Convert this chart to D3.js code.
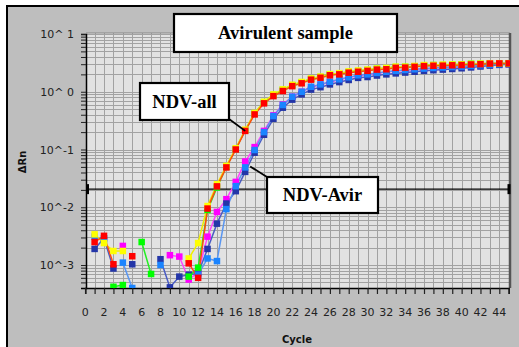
<!DOCTYPE html>
<html><head><meta charset="utf-8">
<script src="https://cdn.jsdelivr.net/npm/d3@7"></script>
<style>html,body{margin:0;padding:0;background:#fff;}svg{display:block;}</style>
</head><body>
<svg id="c" width="519" height="347"></svg>
<script>
// ---- data ----
const cycles = d3.range(1, 46);
const xTicks = d3.range(0, 45, 2);
const yTickLabels = [[10, "10^ 1"], [1, "10^ 0"], [0.1, "10^-1"], [0.01, "10^-2"], [0.001, "10^-3"]];
const threshold = 0.0206;
const _ = null;
// NDV-all replicates
const red    = [0.0025,0.0032,0.00103,_,0.00142,_,_,_,_,_,0.00107,0.0006,0.0095,0.023,0.049,0.1,0.21,0.405,0.63,0.84,1.03,1.25,1.4,1.62,1.75,1.93,2.0,2.14,2.22,2.3,2.42,2.45,2.6,2.62,2.7,2.78,2.82,2.83,2.87,2.9,2.97,3.0,3.08,3.1,3.1];
const yellow = [0.0034,0.0024,0.00175,0.00175,_,_,_,_,_,_,0.0013,0.0024,0.0105,0.025,0.052,0.105,0.22,0.43,0.67,0.9,1.1,1.32,1.48,1.7,1.83,2.02,2.1,2.25,2.33,2.42,2.52,2.58,2.72,2.72,2.8,2.9,2.9,2.95,2.97,2.98,3.05,3.08,3.12,3.12,3.12];
const green  = [_,_,0.00042,0.00045,_,0.0025,0.0007,_,_,_,0.00063,0.0009,0.009,0.022,0.05,0.102,0.215,0.42,0.66,0.88,1.08,1.3,1.45,1.67,1.8,2.0,2.06,2.2,2.28,2.38,2.5,2.55,2.68,2.7,2.75,2.85,2.9,2.9,2.95,2.98,3.05,3.05,3.1,3.1,3.1];
// NDV-Avir replicates
const magenta   = [_,_,_,0.00214,_,_,_,_,0.00148,0.0014,0.00056,0.00075,0.0031,0.0083,0.0138,0.0275,0.062,0.11,0.21,0.39,0.6,0.82,1.0,1.2,1.32,1.47,1.62,1.76,1.9,1.98,2.1,2.2,2.28,2.36,2.43,2.5,2.56,2.62,2.66,2.7,2.78,2.86,2.93,2.98,3.03];
const navy      = [0.0019,0.0029,0.00087,_,0.00103,_,_,0.00126,0.00041,0.00063,0.00068,0.00072,0.0019,0.0052,0.0116,0.019,0.041,0.088,0.18,0.34,0.53,0.73,0.9,1.09,1.2,1.34,1.47,1.6,1.74,1.8,1.91,2.0,2.08,2.15,2.22,2.3,2.36,2.42,2.48,2.55,2.64,2.74,2.84,2.92,2.98];
const lightBlue = [0.0031,0.0027,_,0.0011,0.0004,_,_,0.001,_,_,_,0.00068,0.0013,0.00117,0.0093,0.0232,0.049,0.098,0.2,0.38,0.59,0.82,1.0,1.22,1.34,1.49,1.64,1.78,1.93,2.0,2.12,2.22,2.3,2.38,2.45,2.52,2.58,2.63,2.68,2.72,2.8,2.88,2.95,3.0,3.05];

const series = [
  {name:"magenta", vals:magenta, fill:"#ff00ff", line:"#ff44ff"},
  {name:"navy", vals:navy, fill:"#2436a8", line:"#4a5cc4"},
  {name:"lightBlue", vals:lightBlue, fill:"#1a84ff", line:"#5a96f0"},
  {name:"green", vals:green, fill:"#00ff00", line:"#22ee22"},
  {name:"yellow", vals:yellow, fill:"#ffff00", line:"#eeee00"},
  {name:"red", vals:red, fill:"#ff0000", line:"#ff4a10"}
];

// ---- layout ----
const svg = d3.select("#c");
const L = 86, R = 510, T = 33, B = 288;
const x = d3.scaleLinear().domain([0, 45]).range([85.2, 508.7]);
const y = d3.scaleLog().domain([0.0004, 10]).range([B, 34]);

// outer frame
svg.append("rect").attr("x",7).attr("y",6).attr("width",530).attr("height",360)
  .attr("fill","#bebebe").attr("stroke","#000").attr("stroke-width",2);

// plot area
svg.append("rect").attr("x",L).attr("y",T).attr("width",R-L).attr("height",B-T).attr("fill","#e2e2e2");

const defs = svg.append("defs");
defs.append("clipPath").attr("id","clip").append("rect").attr("x",L).attr("y",T).attr("width",R-L).attr("height",B-T);

// gridlines
const grid = svg.append("g").attr("shape-rendering","crispEdges");
grid.selectAll("line.v").data(d3.range(1,46)).join("line")
  .attr("x1",d=>Math.round(x(d))+0.5).attr("x2",d=>Math.round(x(d))+0.5).attr("y1",T).attr("y2",B)
  .attr("stroke","#a2a2a2").attr("stroke-width",1.5);
const yMinor = y.ticks().filter(v => v > 0.0004 && v <= 10);
grid.selectAll("line.h").data(yMinor).join("line")
  .attr("x1",L).attr("x2",R).attr("y1",d=>Math.round(y(d))+0.5).attr("y2",d=>Math.round(y(d))+0.5)
  .attr("stroke","#a2a2a2").attr("stroke-width",1.5);

// plot border
svg.append("line").attr("x1",L).attr("x2",R).attr("y1",T).attr("y2",T).attr("stroke","#888").attr("stroke-width",1);
svg.append("line").attr("x1",R).attr("x2",R).attr("y1",T).attr("y2",B).attr("stroke","#555").attr("stroke-width",2.5);

// y axis
const yAxis = d3.axisLeft(y).tickValues(yMinor).tickSize(5).tickFormat("");
const gy = svg.append("g").attr("transform",`translate(${L},0)`).call(yAxis);
gy.select(".domain").attr("stroke","#000").attr("stroke-width",1.5);
gy.selectAll(".tick line").attr("stroke","#222").attr("stroke-width",1);
svg.append("g").selectAll("text").data(yTickLabels).join("text")
  .attr("x",74).attr("y",d=>y(d[0])+4).attr("text-anchor","end")
  .attr("font-family","DejaVu Sans, sans-serif").attr("font-size",11).attr("fill","#222")
  .text(d=>d[1]);

// x axis
const xAxis = d3.axisBottom(x).tickValues(d3.range(0,46)).tickSize(6).tickFormat("");
const gx = svg.append("g").attr("transform",`translate(0,${B})`).call(xAxis);
gx.select(".domain").attr("stroke","#000").attr("stroke-width",1.5);
gx.selectAll(".tick line").attr("stroke","#222").attr("stroke-width",1.2);
svg.append("g").selectAll("text").data(xTicks).join("text")
  .attr("x",d=>x(d)).attr("y",316).attr("text-anchor","middle")
  .attr("font-family","DejaVu Sans, sans-serif").attr("font-size",11).attr("fill","#222")
  .text(d=>d);

// axis titles
svg.append("text").attr("x",297).attr("y",343).attr("text-anchor","middle")
  .attr("font-family","DejaVu Sans, sans-serif").attr("font-weight","bold").attr("font-size",10).attr("fill","#111").text("Cycle");
svg.append("text").attr("transform","translate(26,162) rotate(-90)").attr("text-anchor","middle")
  .attr("font-family","DejaVu Sans, sans-serif").attr("font-weight","bold").attr("font-size",10).attr("fill","#111").text("ΔRn");

// threshold
svg.append("line").attr("x1",L).attr("x2",R).attr("y1",y(threshold)).attr("y2",y(threshold)).attr("stroke","#000").attr("stroke-width",1.3);
[L+1.5, R-1].forEach(px => svg.append("rect").attr("x",px-1.5).attr("y",y(threshold)-5).attr("width",3).attr("height",10).attr("fill","#000"));

// series
const plot = svg.append("g").attr("clip-path","url(#clip)");
const line = d3.line().defined(d=>d.v!=null).x(d=>x(d.c)).y(d=>y(d.v));
series.forEach(s => {
  const pts = cycles.map((c,i)=>({c, v:s.vals[i]}));
  plot.append("path").datum(pts).attr("d",line).attr("fill","none").attr("stroke",s.line).attr("stroke-width",1.5);
});
const ms = 6.5;
series.forEach(s => {
  const pts = cycles.map((c,i)=>({c, v:s.vals[i]})).filter(d=>d.v!=null);
  plot.selectAll(null).data(pts).join("rect")
    .attr("x",d=>x(d.c)-ms/2).attr("y",d=>y(d.v)-ms/2).attr("width",ms).attr("height",ms)
    .attr("fill",s.fill);
});

// annotations
function box(x0,y0,w,h,txt,fs){
  svg.append("rect").attr("x",x0).attr("y",y0).attr("width",w).attr("height",h).attr("fill","#fff").attr("stroke","#000").attr("stroke-width",2.2);
  svg.append("text").attr("x",x0+w/2).attr("y",y0+h/2+6).attr("text-anchor","middle")
    .attr("font-family","Liberation Serif, Times New Roman, serif").attr("font-weight","bold").attr("font-size",fs).attr("fill","#000").text(txt);
}
// pointer lines
svg.append("line").attr("x1",229).attr("y1",119).attr("x2",x(17)).attr("y2",y(red[16])).attr("stroke","#000").attr("stroke-width",1.8);
svg.append("line").attr("x1",267).attr("y1",177).attr("x2",x(17)+5).attr("y2",y(lightBlue[16])-1).attr("stroke","#000").attr("stroke-width",1.8);
box(174,14,223,38,"Avirulent sample",18.5);
box(140,83,89,37,"NDV-all",18.5);
box(267,177,111,36,"NDV-Avir",18.5);
</script>
</body></html>
